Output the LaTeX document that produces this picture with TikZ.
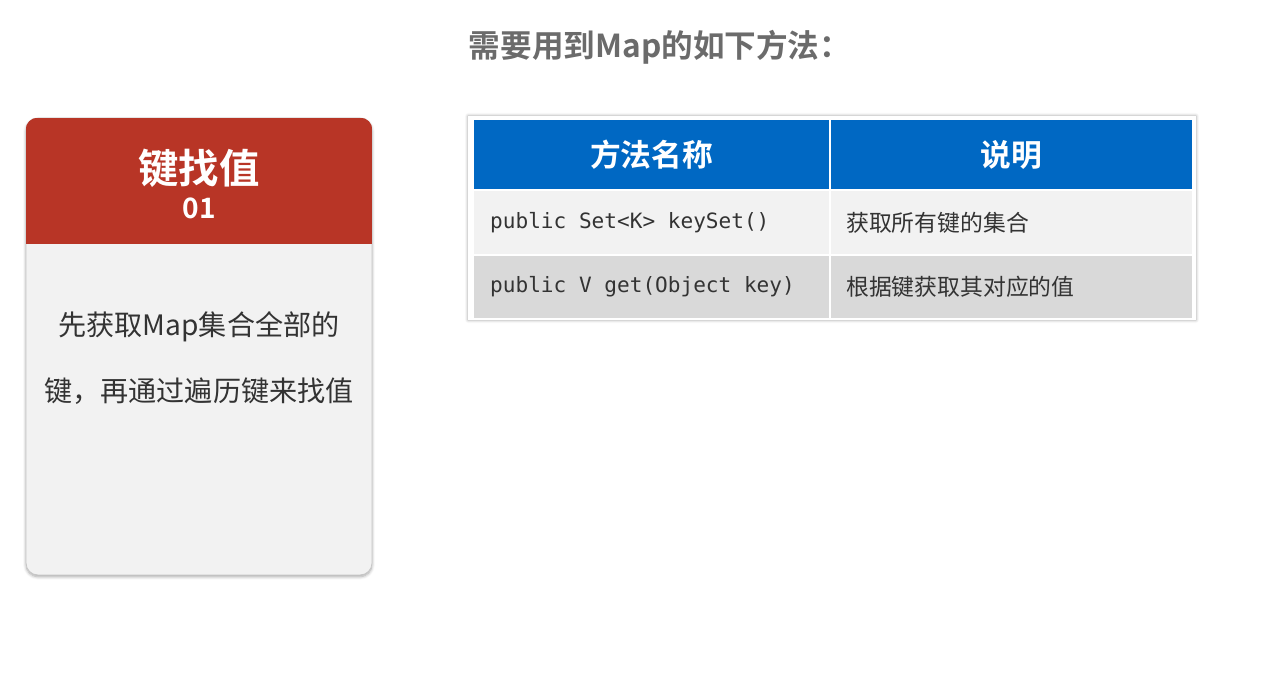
\documentclass[tikz,border=0pt]{standalone}
\usepackage{fontspec}
\newfontfamily\cjk{Noto Sans CJK SC}[BoldFont={Noto Sans CJK SC Bold}]
\setmonofont{DejaVu Sans Mono}
\usetikzlibrary{positioning, shadows.blur}
\definecolor{cardred}{HTML}{B83526}
\definecolor{cardgray}{HTML}{F2F2F2}
\definecolor{headblue}{HTML}{0068C3}
\definecolor{rowlight}{HTML}{F2F2F2}
\definecolor{rowdark}{HTML}{D9D9D9}
\definecolor{titlegray}{HTML}{6B6B6B}
\definecolor{textdark}{HTML}{333333}
\tikzset{
	card/.style = {rectangle, rounded corners=0.24cm, fill=cardgray, draw=gray!45,
		minimum width=6.92cm, minimum height=9.14cm, inner sep=0pt,
		blur shadow={shadow xshift=0pt, shadow yshift=-1pt, shadow blur steps=6, shadow opacity=35}},
	cell/.style = {rectangle, draw=white, line width=1.2pt, inner sep=0pt, anchor=north west},
	headcell/.style = {cell, fill=headblue, minimum height=1.42cm, text=white,
		font=\cjk\bfseries\fontsize{17.5}{20}\selectfont},
	rowcell/.style = {cell, minimum height=1.3cm},
	codetext/.style = {anchor=west, text=textdark, font=\ttfamily\fontsize{12}{14}\selectfont},
	desctext/.style = {anchor=west, text=textdark, font=\cjk\fontsize{13}{15}\selectfont}
}
\begin{document}
\begin{tikzpicture}[x=0.02cm, y=-0.02cm]
\useasboundingbox (0,0) rectangle (1261,679);
% page title
\node (title) [text=titlegray, font=\cjk\bfseries\fontsize{18}{20}\selectfont] at (660,47) {需要用到Map的如下方法：};

% left card
\node (card) [card] at (199,346.5) {};
\begin{scope}
	\clip[rounded corners=0.24cm] (card.north west) rectangle (card.south east);
	\fill[cardred] (card.north west) rectangle (372,244);
\end{scope}
\node (cardname) [text=white, font=\cjk\bfseries\fontsize{23}{26}\selectfont] at (199,168) {键找值};
\node (cardnum) [text=white, font=\cjk\bfseries\fontsize{16}{18}\selectfont] at (199,208) {01};
\node (cardtext) [text=textdark, align=center, font=\cjk\fontsize{16}{38}\selectfont] at (199,358)
	{先获取Map集合全部的\\键，再通过遍历键来找值};

% table of methods
\node (frame) [rectangle, fill=white, inner sep=0pt, minimum width=14.56cm, minimum height=4.08cm,
	blur shadow={shadow xshift=0pt, shadow yshift=0pt, shadow blur steps=5, shadow opacity=40}] at (832,218) {};
\node (h1) [headcell, minimum width=7.14cm] at (472,118) {方法名称};
\node (h2) [headcell, minimum width=7.26cm] at (829,118) {说明};
\node (r1c1) [rowcell, fill=rowlight, minimum width=7.14cm] at (472,189) {};
\node (r1c2) [rowcell, fill=rowlight, minimum width=7.26cm] at (829,189) {};
\node (r2c1) [rowcell, fill=rowdark, minimum width=7.14cm, minimum height=1.28cm] at (472,254) {};
\node (r2c2) [rowcell, fill=rowdark, minimum width=7.26cm, minimum height=1.28cm] at (829,254) {};

\node (m1) [codetext] at ([xshift=0.24cm]r1c1.west) {public Set<K> keySet()};
\node (d1) [desctext] at ([xshift=0.22cm]r1c2.west) {获取所有键的集合};
\node (m2) [codetext] at ([xshift=0.24cm]r2c1.west) {public V get(Object key)};
\node (d2) [desctext] at ([xshift=0.22cm]r2c2.west) {根据键获取其对应的值};
\end{tikzpicture}
\end{document}
